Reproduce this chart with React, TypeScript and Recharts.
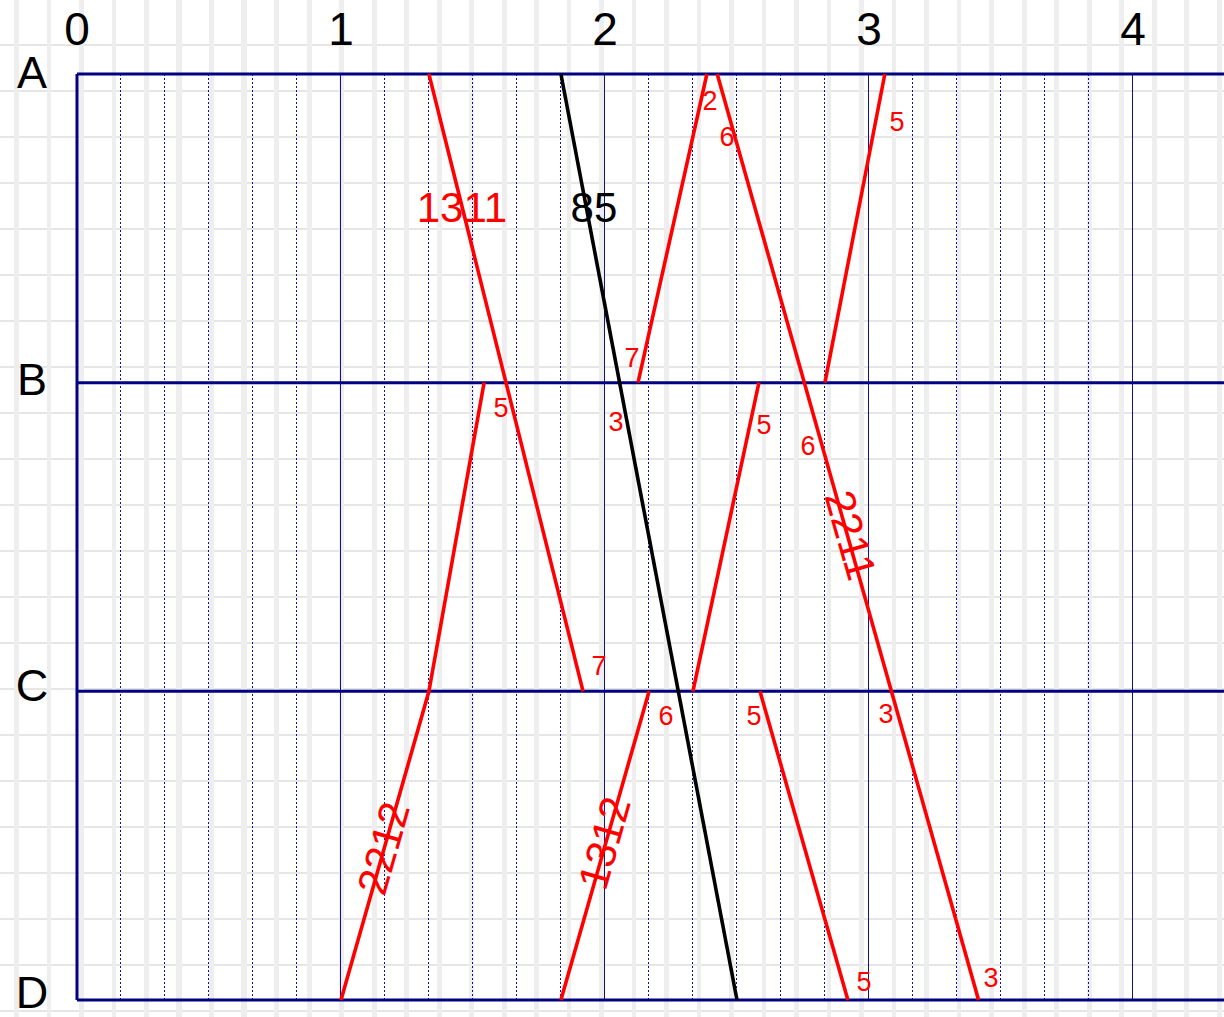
import React from 'react'
import { ComposedChart, Line, XAxis, YAxis, CartesianGrid, ReferenceDot } from 'recharts'

// stations top to bottom, 0..3 on the y scale
const STATIONS = ['A', 'B', 'C', 'D']
const STATION_TICKS = [0, 1, 2, 3]
const HOUR_TICKS = [0, 1, 2, 3, 4]
const MINOR_TICKS = [
  1 / 6, 2 / 6, 3 / 6, 4 / 6, 5 / 6,
  7 / 6, 8 / 6, 9 / 6, 10 / 6, 11 / 6,
  13 / 6, 14 / 6, 15 / 6, 16 / 6, 17 / 6,
  19 / 6, 20 / 6, 21 / 6, 22 / 6, 23 / 6,
]

// train paths: t = time, s = station index
const train1311 = [{ t: 1.333, s: 0 }, { t: 1.917, s: 2 }]
const train85 = [{ t: 1.833, s: 0 }, { t: 2.5, s: 3 }]
const train2211 = [{ t: 2.425, s: 0 }, { t: 3.415, s: 3 }]
const train2212 = [{ t: 1.0, s: 3 }, { t: 1.333, s: 2 }, { t: 1.542, s: 1 }]
const train2212b = [{ t: 2.125, s: 1 }, { t: 2.386, s: 0 }]
const train1312 = [{ t: 1.833, s: 3 }, { t: 2.167, s: 2 }]
const train1312b = [{ t: 2.333, s: 2 }, { t: 2.583, s: 1 }]
const train1312c = [{ t: 2.833, s: 1 }, { t: 3.06, s: 0 }]
const trainCD = [{ t: 2.587, s: 2 }, { t: 2.92, s: 3 }]

const RED_TRAINS = [train1311, train2211, train2212, train2212b, train1312, train1312b, train1312c, trainCD]

// labels: position in chart units, text, big = train number
const LABELS = [
  { t: 1.458, s: 0.431, text: '1311', big: true },
  { t: 1.958, s: 0.431, text: '85', big: true, black: true },
  { t: 2.398, s: 0.084, text: '2' },
  { t: 2.462, s: 0.201, text: '6' },
  { t: 3.106, s: 0.152, text: '5' },
  { t: 2.102, s: 0.917, text: '7' },
  { t: 1.606, s: 1.079, text: '5' },
  { t: 2.042, s: 1.124, text: '3' },
  { t: 2.602, s: 1.134, text: '5' },
  { t: 2.769, s: 1.202, text: '6' },
  { t: 2.932, s: 1.494, text: '2211', big: true, rot: 74 },
  { t: 1.977, s: 1.915, text: '7' },
  { t: 2.231, s: 2.077, text: '6' },
  { t: 2.564, s: 2.077, text: '5' },
  { t: 3.064, s: 2.07, text: '3' },
  { t: 1.159, s: 2.508, text: '2212', big: true, rot: -74 },
  { t: 1.996, s: 2.491, text: '1312', big: true, rot: -74 },
  { t: 2.981, s: 2.938, text: '5' },
  { t: 3.462, s: 2.925, text: '3' },
]

const FONT = '"Liberation Sans", Arial, sans-serif'
const NAVY = '#000080'

function HourTick({ x, payload }: any) {
  return (
    <text x={x} y={45} textAnchor="middle" fontSize={46} fontFamily={FONT} fill="#000">
      {payload.value}
    </text>
  )
}

function StationTick({ y, payload }: any) {
  // the last letter sits a little higher so it stays inside the picture
  return (
    <text x={32} y={y + 14 - payload.value * 2} textAnchor="middle" fontSize={45} fontFamily={FONT} fill="#000">
      {STATIONS[payload.value]}
    </text>
  )
}

const background = {
  backgroundColor: '#fff',
  backgroundImage:
    'repeating-linear-gradient(90deg, rgba(0,0,0,0) 0px, rgba(0,0,0,0) 14px, #eeeeee 14px, #eeeeee 19px, rgba(0,0,0,0) 19px, rgba(0,0,0,0) 32.5px),' +
    'repeating-linear-gradient(180deg, rgba(0,0,0,0) 0px, rgba(0,0,0,0) 44px, #e6e6e6 44px, #e6e6e6 46px)',
}

export default function App() {
  return (
    <div style={{ position: 'absolute', left: 0, top: 0, width: 1224, height: 1017, ...background }}>
      <ComposedChart width={1224} height={1017} margin={{ top: 0, right: 0, bottom: 17, left: 0 }}>
        <XAxis
          type="number"
          dataKey="t"
          orientation="top"
          domain={[0, 4.3447]}
          ticks={HOUR_TICKS}
          interval={0}
          height={74}
          axisLine={false}
          tickLine={false}
          tick={<HourTick />}
          allowDataOverflow
        />
        <XAxis
          xAxisId="minor"
          type="number"
          dataKey="t"
          domain={[0, 4.3447]}
          ticks={MINOR_TICKS}
          interval={0}
          hide
          allowDataOverflow
        />
        <YAxis
          type="number"
          dataKey="s"
          domain={[0, 3]}
          reversed
          ticks={STATION_TICKS}
          interval={0}
          width={77}
          axisLine={{ stroke: NAVY, strokeWidth: 3 }}
          tickLine={false}
          tick={<StationTick />}
        />
        <CartesianGrid xAxisId="minor" horizontal={false} stroke="#1010a0" strokeDasharray="2 2" shapeRendering="crispEdges" />
        <CartesianGrid horizontal={false} stroke="#10108c" shapeRendering="crispEdges" />
        <CartesianGrid vertical={false} stroke={NAVY} strokeWidth={3} />

        {RED_TRAINS.map((d, i) => (
          <Line key={i} data={d} dataKey="s" type="linear" stroke="#ff0000" strokeWidth={3.6} dot={false} isAnimationActive={false} />
        ))}
        <Line data={train85} dataKey="s" type="linear" stroke="#000" strokeWidth={3.6} dot={false} isAnimationActive={false} />

        {LABELS.map((l, i) => (
          <ReferenceDot
            key={'l' + i}
            x={l.t}
            y={l.s}
            r={0}
            shape={(p: any) => (
              <text
                x={p.cx}
                y={p.cy}
                dy={l.big ? 15 : 10}
                textAnchor="middle"
                fontSize={l.big ? 42 : 27}
                fontFamily={FONT}
                fill={l.black ? '#000' : '#ff0000'}
                transform={l.rot ? `rotate(${l.rot} ${p.cx} ${p.cy})` : undefined}
              >
                {l.text}
              </text>
            )}
          />
        ))}
      </ComposedChart>
    </div>
  )
}
